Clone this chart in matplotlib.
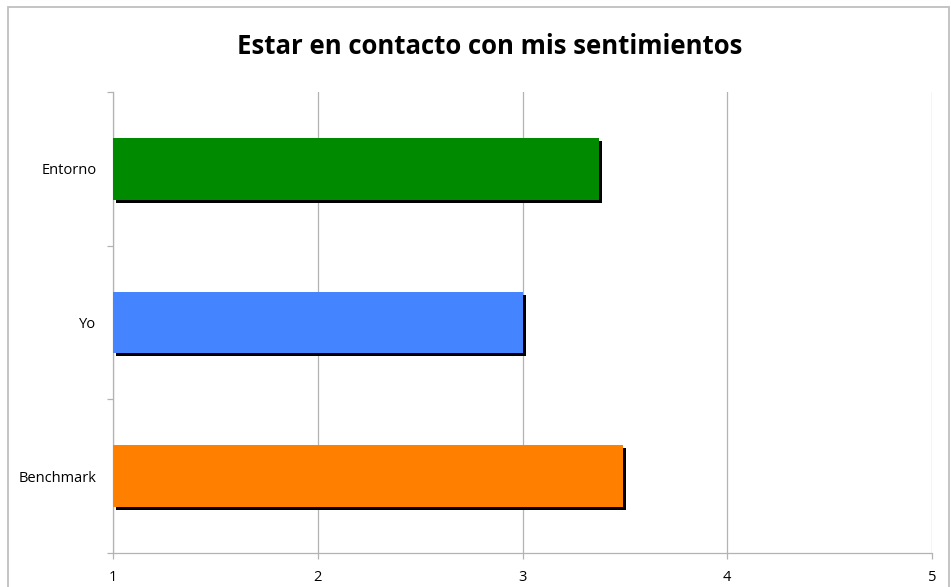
import matplotlib.pyplot as plt
import matplotlib.patheffects as pe
from matplotlib.patches import Rectangle

# data
categories = ['Benchmark', 'Yo', 'Entorno']
values = [3.49, 3.0, 3.375]
colors = ['#ff7f00', '#4485ff', '#008a00']
x_ticks = [1, 2, 3, 4, 5]
title = 'Estar en contacto con mis sentimientos'

plt.rcParams['font.family'] = ['Open Sans', 'DejaVu Sans']

fig = plt.figure(figsize=(9.51, 5.87), dpi=100)
ax = fig.add_axes([113/951, 1-553/587, (932-113)/951, (553-92)/587])

# chart border
fig.patches.append(Rectangle((8/951, -0.01), (949-8)/951, 1-7/587+0.01,
                             transform=fig.transFigure, fill=False,
                             edgecolor='#bfbfbf', linewidth=1.3))

pos = [i + 0.5 for i in range(len(categories))]
bars = ax.barh(pos, [v - 1 for v in values], left=1, height=0.4, color=colors, zorder=3)
for b in bars:
    b.set_path_effects([pe.SimplePatchShadow(offset=(2.2, -2.2), shadow_rgbFace='black', alpha=1),
                        pe.Normal()])

ax.set_xlim(1, 5)
ax.set_ylim(0, 3)
ax.set_xticks(x_ticks)
ax.set_xticklabels([str(t) for t in x_ticks], fontsize=10.5)
ax.set_yticks(pos)
ax.set_yticklabels(categories, fontsize=10.5)
ax.set_yticks([0, 1, 2, 3], minor=True)
ax.tick_params(axis='y', which='major', length=0, pad=12)
ax.tick_params(axis='y', which='minor', length=4, color='#b3b3b3', width=0.9)
ax.tick_params(axis='x', length=4, color='#b3b3b3', width=0.9, pad=8)
ax.xaxis.grid(True, color='#b3b3b3', linewidth=0.9, zorder=0)
ax.set_axisbelow(True)

for s in ['top', 'right']:
    ax.spines[s].set_visible(False)
for s in ['left', 'bottom']:
    ax.spines[s].set_color('#b3b3b3')
    ax.spines[s].set_linewidth(0.9)

fig.text(490/951, 1-47/587, title, ha='center', va='center', fontsize=18.5, fontweight='bold')

fig.savefig('out.png', dpi=100)
